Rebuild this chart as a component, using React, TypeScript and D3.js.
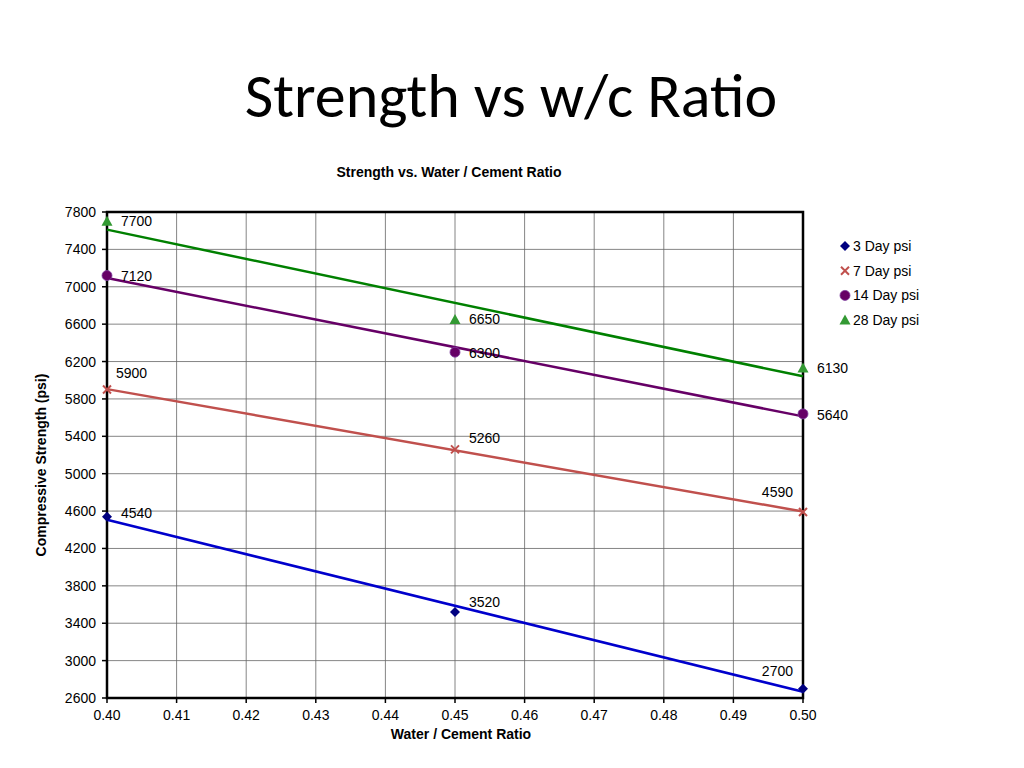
import React from "react";
import * as d3 from "d3";

const wcRatios = [0.4, 0.45, 0.5];
const day3 = [4540, 3520, 2700];
const day7 = [5900, 5260, 4590];
const day14 = [7120, 6300, 5640];
const day28 = [7700, 6650, 6130];
const seriesNames = ["3 Day psi", "7 Day psi", "14 Day psi", "28 Day psi"];
const xTicks = [0.4, 0.41, 0.42, 0.43, 0.44, 0.45, 0.46, 0.47, 0.48, 0.49, 0.5];
const yTicks = [2600, 3000, 3400, 3800, 4200, 4600, 5000, 5400, 5800, 6200, 6600, 7000, 7400, 7800];

type Lab = { dx: number; dy: number; anchor: string }[];

const series = [
  { name: seriesNames[0], values: day3, marker: "diamond", mColor: "#000080", lColor: "#0000CC",
    labels: [{ dx: 14, dy: -4, anchor: "start" }, { dx: 14, dy: -10, anchor: "start" }, { dx: -10, dy: -18, anchor: "end" }] as Lab },
  { name: seriesNames[1], values: day7, marker: "x", mColor: "#C0504D", lColor: "#C0504D",
    labels: [{ dx: 9, dy: -17, anchor: "start" }, { dx: 14, dy: -11, anchor: "start" }, { dx: -10, dy: -20, anchor: "end" }] as Lab },
  { name: seriesNames[2], values: day14, marker: "circle", mColor: "#660066", lColor: "#660066",
    labels: [{ dx: 14, dy: 0, anchor: "start" }, { dx: 14, dy: 1, anchor: "start" }, { dx: 14, dy: 1, anchor: "start" }] as Lab },
  { name: seriesNames[3], values: day28, marker: "triangle", mColor: "#339933", lColor: "#008000",
    labels: [{ dx: 14, dy: 0, anchor: "start" }, { dx: 14, dy: 0, anchor: "start" }, { dx: 14, dy: 0, anchor: "start" }] as Lab },
];

const left = 107, right = 803, top = 212, bottom = 698;
const x = d3.scaleLinear().domain([0.4, 0.5]).range([left, right]);
const y = d3.scaleLinear().domain([2600, 7800]).range([bottom, top]);

function regression(xs: number[], ys: number[]) {
  const mx = d3.mean(xs)!, my = d3.mean(ys)!;
  let num = 0, den = 0;
  xs.forEach((xv, i) => { num += (xv - mx) * (ys[i] - my); den += (xv - mx) ** 2; });
  const b = num / den;
  return (xv: number) => my + b * (xv - mx);
}

function Marker({ type, cx, cy, color }: { type: string; cx: number; cy: number; color: string }) {
  if (type === "diamond") {
    const s = 5;
    return <path d={`M${cx},${cy - s}L${cx + s},${cy}L${cx},${cy + s}L${cx - s},${cy}Z`} fill={color} />;
  }
  if (type === "x") {
    const s = 4;
    return <path d={`M${cx - s},${cy - s}L${cx + s},${cy + s}M${cx - s},${cy + s}L${cx + s},${cy - s}`} stroke={color} strokeWidth={2} />;
  }
  if (type === "circle") {
    return <circle cx={cx} cy={cy} r={5} fill={color} stroke="#7F3F9F" strokeWidth={0.8} />;
  }
  const s = 5.5;
  return <path d={`M${cx},${cy - s}L${cx + s},${cy + s - 1}L${cx - s},${cy + s - 1}Z`} fill={color} />;
}

export default function App() {
  const font = "'Liberation Sans', Arial, sans-serif";
  const fs = 14;
  return (
    <svg width={1024} height={768} style={{ position: "absolute", left: 0, top: 0, background: "#fff" }}>
      <text x={511} y={117} textAnchor="middle" fontFamily="Carlito, Lato, 'Open Sans', sans-serif" fontSize={62} fill="#000">
        Strength vs w/c Ratio
      </text>
      <text x={449} y={177} textAnchor="middle" fontFamily={font} fontSize={fs} fontWeight="bold">
        Strength vs. Water / Cement Ratio
      </text>
      {/* grid */}
      {xTicks.map((t) => (
        <line key={"gx" + t} x1={x(t)} x2={x(t)} y1={top} y2={bottom} stroke="#666" strokeWidth={0.8} />
      ))}
      {yTicks.map((t) => (
        <line key={"gy" + t} x1={left} x2={right} y1={y(t)} y2={y(t)} stroke="#666" strokeWidth={0.8} />
      ))}
      <rect x={left} y={top} width={right - left} height={bottom - top} fill="none" stroke="#000" strokeWidth={2.5} />
      {/* tick marks */}
      {yTicks.map((t) => (
        <line key={"ty" + t} x1={left - 5} x2={left} y1={y(t)} y2={y(t)} stroke="#000" strokeWidth={1.5} />
      ))}
      {xTicks.map((t) => (
        <line key={"tx" + t} x1={x(t)} x2={x(t)} y1={bottom} y2={bottom + 5} stroke="#000" strokeWidth={1.5} />
      ))}
      {yTicks.map((t) => (
        <text key={"ly" + t} x={left - 11} y={y(t) + 5} textAnchor="end" fontFamily={font} fontSize={fs}>
          {t}
        </text>
      ))}
      {xTicks.map((t) => (
        <text key={"lx" + t} x={x(t)} y={bottom + 22} textAnchor="middle" fontFamily={font} fontSize={fs}>
          {d3.format(".2f")(t)}
        </text>
      ))}
      <text x={461} y={739} textAnchor="middle" fontFamily={font} fontSize={fs} fontWeight="bold">
        Water / Cement Ratio
      </text>
      <text transform={`translate(46,${y(5200) + 10}) rotate(-90)`} textAnchor="middle" fontFamily={font} fontSize={fs} fontWeight="bold">
        Compressive Strength (psi)
      </text>
      {/* trend lines */}
      {series.map((s) => {
        const f = regression(wcRatios, s.values);
        return (
          <line key={"tl" + s.name} x1={x(0.4)} y1={y(f(0.4))} x2={x(0.5)} y2={y(f(0.5))} stroke={s.lColor} strokeWidth={2.5} />
        );
      })}
      {/* markers + labels */}
      {series.map((s) =>
        s.values.map((v, i) => (
          <g key={s.name + i}>
            <Marker type={s.marker} cx={x(wcRatios[i])} cy={y(v)} color={s.mColor} />
            <text
              x={x(wcRatios[i]) + s.labels[i].dx}
              y={y(v) + s.labels[i].dy + 5}
              textAnchor={s.labels[i].anchor}
              fontFamily={font}
              fontSize={fs}
            >
              {v}
            </text>
          </g>
        ))
      )}
      {/* legend */}
      {series.map((s, i) => (
        <g key={"lg" + s.name}>
          <Marker type={s.marker} cx={845} cy={246 + i * 24.7} color={s.mColor} />
          <text x={853} y={246 + i * 24.7 + 5} fontFamily={font} fontSize={fs}>
            {s.name}
          </text>
        </g>
      ))}
    </svg>
  );
}
